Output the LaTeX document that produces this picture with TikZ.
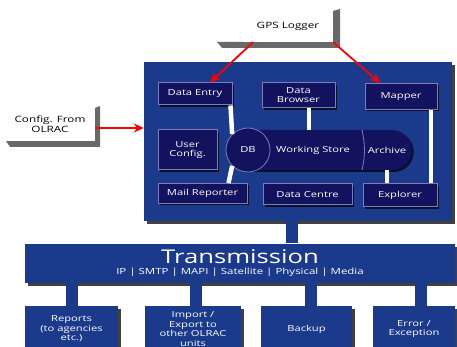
\documentclass[tikz,border=0pt]{standalone}
\usepackage{fontspec}
\setmainfont{Open Sans}[FakeStretch=1.35]
\usetikzlibrary{positioning, shapes, shadows, arrows.meta}
\definecolor{panelblue}{RGB}{28,58,140}
\definecolor{boxnavy}{RGB}{18,18,94}
\definecolor{boxedge}{RGB}{125,125,185}
\definecolor{tailgray}{RGB}{105,105,105}

\begin{document}
\begin{tikzpicture}[x=1pt, y=-1pt, >={Stealth[length=10pt,width=9pt]},
        panel/.style={rectangle, fill=panelblue, inner sep=0pt, text=white, align=center,
            drop shadow={shadow xshift=3pt, shadow yshift=-3pt, fill=black, opacity=0.75}},
        inbox/.style={rectangle, fill=boxnavy, draw=boxedge, line width=1pt, text=white, align=center,
            inner sep=1pt, font=\fontsize{8.3}{9}\selectfont,
            drop shadow={shadow xshift=2pt, shadow yshift=-2pt, fill=black, opacity=0.7}},
        outbox/.style={panel, font=\fontsize{8.3}{9.4}\selectfont},
        note/.style={rectangle, fill=white, align=center, inner sep=0pt, font=\fontsize{8.7}{10}\selectfont},
        wire/.style={white, line width=4.5pt},
        feed/.style={->, red, line width=1.8pt},
        trunk/.style={panelblue, line width=12pt}]
    \useasboundingbox (0,0) rectangle (457,347);

    % sources outside the logger
    \fill[tailgray] (217,42) -- (333,42) -- (333,11) -- (340,9) -- (340,48) -- (222,48) -- cycle;
    \node at (288,26) [note, minimum width=90pt, minimum height=32pt] (gps) {GPS Logger};
    \fill[tailgray] (6,141) -- (95,141) -- (95,108) -- (100,106) -- (100,147) -- (10,147) -- cycle;
    \node at (50,124) [note, minimum width=90pt, minimum height=34pt] (config) {Config. From\\OLRAC};

    % logger unit
    \node at (298,141.5) [panel, minimum width=308pt, minimum height=159pt] (panel) {};

    \node at (195,94) [inbox, minimum width=74pt, minimum height=22pt] (entry) {Data Entry};
    \node at (298.5,95.5) [inbox, minimum width=73pt, minimum height=25pt] (browser) {Data\\Browser};
    \node at (401,96.5) [inbox, minimum width=72pt, minimum height=26pt] (mapper) {Mapper};
    \node at (187.5,150) [inbox, minimum width=59pt, minimum height=40pt] (userconf) {User\\Config.};

    \node at (320,150) [rounded rectangle, fill=boxnavy, minimum width=190pt, minimum height=40pt,
        drop shadow={shadow xshift=2pt, shadow yshift=-2pt, fill=black, opacity=0.7}] (store) {};
    \draw[boxedge, line width=0.8pt] (store.north -| 362,0) to[bend left=12] (store.south -| 362,0);
    \node at (248,150) [circle, fill=boxnavy, draw=boxedge, line width=0.8pt, minimum size=44pt,
        inner sep=0pt, text=white, font=\fontsize{8.3}{9}\selectfont] (db) {DB};
    \node at (313,150) [text=white, font=\fontsize{8.3}{9}\selectfont] (working) {Working Store};
    \node at (387,150) [text=white, font=\fontsize{8.3}{9}\selectfont] (archive) {Archive};

    \node at (202.5,193.5) [inbox, minimum width=89pt, minimum height=20pt] (mail) {Mail Reporter};
    \node at (307.5,194.5) [inbox, minimum width=89pt, minimum height=21pt] (centre) {Data Centre};
    \node at (400,195.5) [inbox, minimum width=74pt, minimum height=23pt] (explorer) {Explorer};

    % transmission
    \node at (240,263) [panel, minimum width=430pt, minimum height=39pt] (trans)
        {{\fontsize{19}{19}\selectfont Transmission}\\[-1pt]
         {\fontsize{8.5}{8}\selectfont IP | SMTP | MAPI | Satellite | Physical | Media}};

    \node at (71.5,329) [outbox, minimum width=93pt, minimum height=46pt] (reports) {Reports\\(to agencies\\etc.)};
    \node at (193,329) [outbox, minimum width=96pt, minimum height=46pt] (import) {Import /\\Export to\\other OLRAC\\units};
    \node at (306.5,329) [outbox, minimum width=91pt, minimum height=46pt] (backup) {Backup};
    \node at (414,329) [outbox, minimum width=82pt, minimum height=46pt] (error) {Error /\\Exception};

    \draw   ([xshift=-6.5pt]panel.south) edge[trunk] ([xshift=-6.5pt]panel.south |- trans.north)
            (reports.north |- trans.south) edge[trunk] (reports.north)
            ([xshift=3pt]import.north |- trans.south) edge[trunk] ([xshift=3pt]import.north)
            ([xshift=4.5pt]backup.north |- trans.south) edge[trunk] ([xshift=4.5pt]backup.north)
            ([xshift=7pt]error.north |- trans.south) edge[trunk] ([xshift=7pt]error.north)
        ;

    \draw   ([xshift=-2pt]entry.south east) edge[wire] (db.north west)
            (browser.south -| 309,0) edge[wire] (store.north -| 309,0)
            (mapper.south -| 431,0) edge[wire] (explorer.north -| 431,0)
            (store.south -| 387,0) edge[wire] (explorer.north -| 387,0)
            (db.south west) edge[wire] ([xshift=-19pt]mail.north east)
        ;

    \draw   ([xshift=-35pt]gps.south) edge[feed] ([xshift=15pt]entry.north)
            (gps.south east) edge[feed] ([xshift=-21pt]mapper.north)
            ([yshift=-4pt]config.east) edge[feed] ([yshift=13.5pt]panel.west)
        ;
\end{tikzpicture}
\end{document}
